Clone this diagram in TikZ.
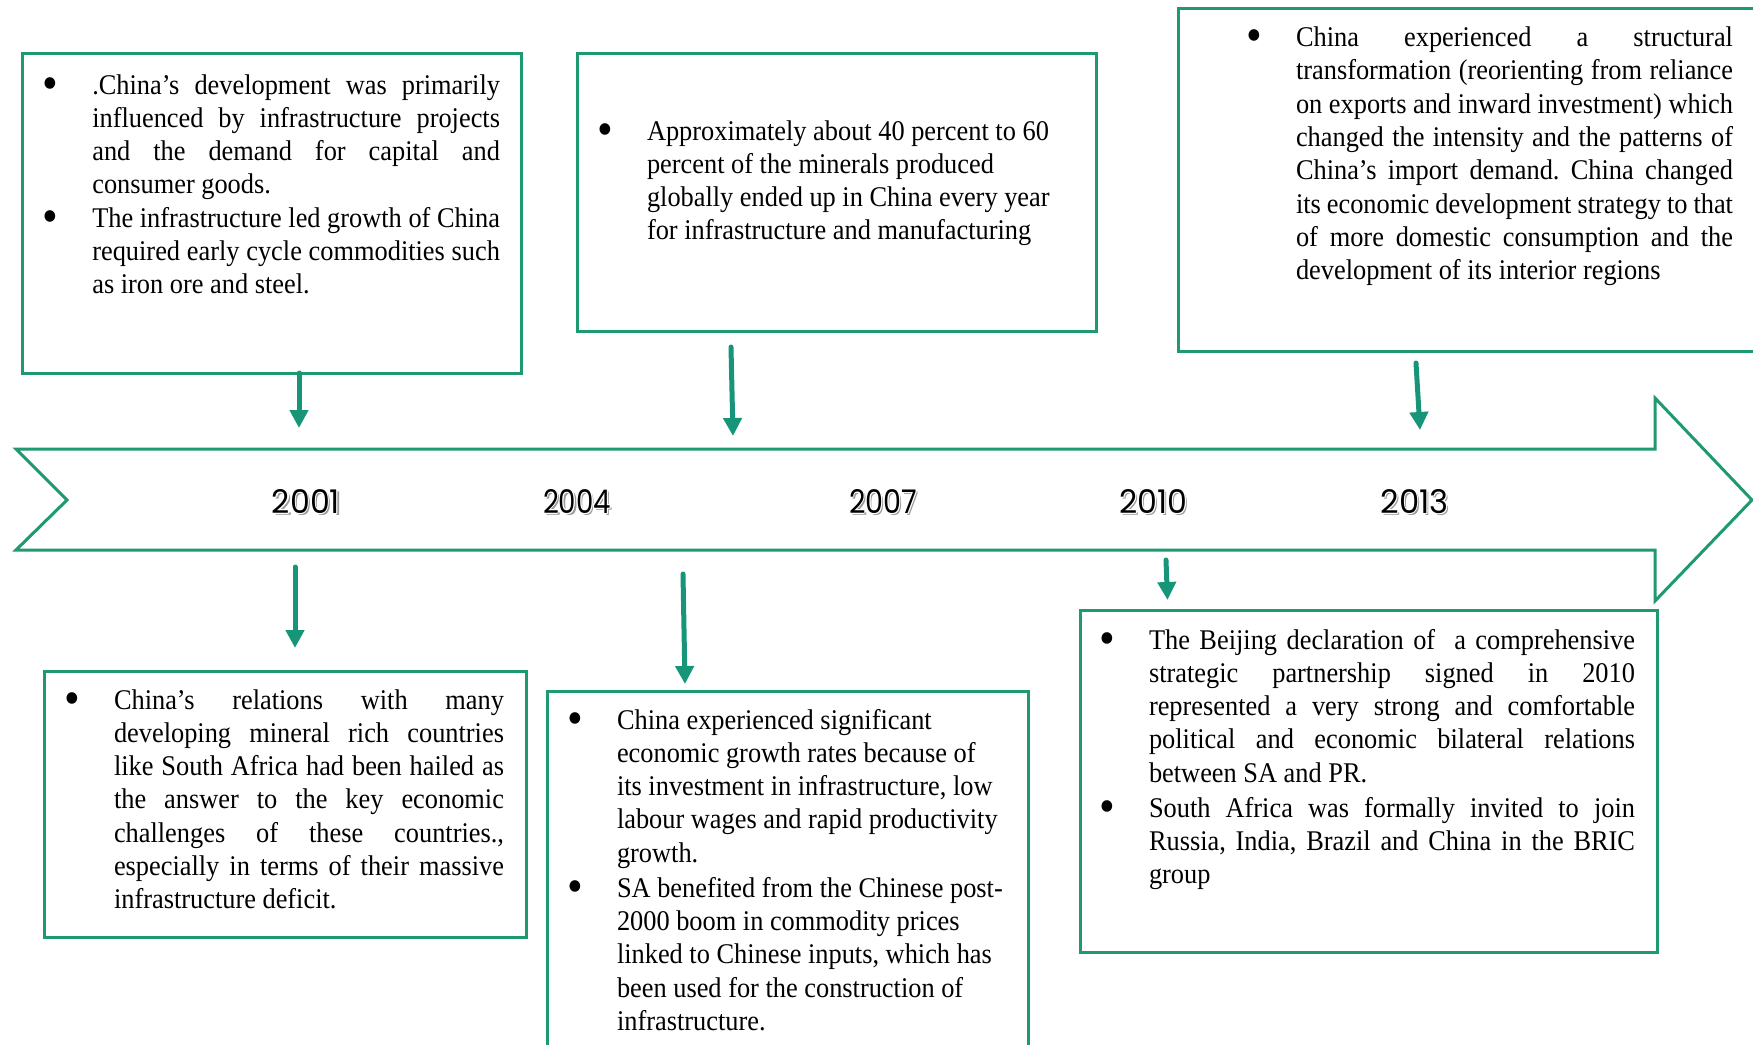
\documentclass[tikz,border=0pt]{standalone}
\usepackage{graphicx}
\usepackage{fontspec}
\setmainfont{Liberation Serif}[FakeStretch=0.925]
\newfontfamily\yearfont{Poppins}
\usetikzlibrary{arrows.meta}
\definecolor{boxgreen}{HTML}{1F9A6F}
\definecolor{arrowteal}{HTML}{169579}
\definecolor{shadowgray}{HTML}{9A9A9A}

\newcommand\bodyfont{\fontsize{14.25}{16.65}\selectfont\frenchspacing}
\newcommand\bul{\noindent\llap{\makebox[0pt]{\raisebox{-2.6pt}{\scalebox{1.7}{\textbullet}}}\hspace{21pt}}}
\newcommand\jl[1]{\makebox[\linewidth][s]{#1}}
\newcommand\yrlayer[1]{\resizebox{34pt}{12pt}{\yearfont #1}}
\newcommand\yeartext[1]{%
  \rlap{\kern1.1pt\raisebox{-1.1pt}{\color{shadowgray}\yrlayer{#1}}}%
  \rlap{\kern0.55pt{\color{white}\yrlayer{#1}}}%
  \rlap{\kern-0.55pt{\color{white}\yrlayer{#1}}}%
  \rlap{\raisebox{0.55pt}{\color{white}\yrlayer{#1}}}%
  \rlap{\raisebox{-0.55pt}{\color{white}\yrlayer{#1}}}%
  \rlap{\kern0.4pt\raisebox{0.4pt}{\color{white}\yrlayer{#1}}}%
  \rlap{\kern-0.4pt\raisebox{-0.4pt}{\color{white}\yrlayer{#1}}}%
  \rlap{\kern0.4pt\raisebox{-0.4pt}{\color{white}\yrlayer{#1}}}%
  \rlap{\kern-0.4pt\raisebox{0.4pt}{\color{white}\yrlayer{#1}}}%
  {\color{black}\yrlayer{#1}}}

\tikzset{
  card/.style={draw=boxgreen, line width=1.5pt, inner sep=0pt, outer sep=0pt, anchor=north west},
  band/.style={draw=boxgreen, line width=1.5pt, line join=miter},
  conn/.style={draw=arrowteal, line width=2.5pt, line cap=round, -{Triangle[width=9pt,length=9pt]}},
  txt/.style={anchor=base west, inner sep=0pt, outer sep=0pt},
  yearlbl/.style={inner sep=0pt, anchor=center},
}

\begin{document}
\begin{tikzpicture}[x=0.5pt, y=-0.5pt]
\useasboundingbox (0,0) rectangle (1753,1045);
\clip (0,0) rectangle (1753,1045);

% timeline band
\draw[band] (16,449) -- (1655,449) -- (1655,398) -- (1752,500) -- (1655,601)
  -- (1655,550) -- (16,550) -- (67,500) -- cycle;

% year labels
\node[yearlbl] (y2001) at (306,502) {\yeartext{2001}};
\node[yearlbl] (y2004) at (577,502) {\yeartext{2004}};
\node[yearlbl] (y2007) at (883,502) {\yeartext{2007}};
\node[yearlbl] (y2010) at (1153.5,502) {\yeartext{2010}};
\node[yearlbl] (y2013) at (1414.5,502) {\yeartext{2013}};

% boxes
\node[card, minimum width=249.75pt, minimum height=160pt] (b1) at (22,53) {};
\node[card, minimum width=259.5pt, minimum height=139pt] (b2) at (577,53) {};
\node[card, minimum width=350pt, minimum height=171.25pt] (b3) at (1178,8.5) {};
\node[card, minimum width=241pt, minimum height=132.75pt] (b4) at (44,671.5) {};
\node[card, minimum width=240.5pt, minimum height=200pt] (b5) at (547,691) {};
\node[card, minimum width=288.5pt, minimum height=171pt] (b6) at (1080,610.5) {};

% texts
\node[txt] (t1) at (92.3,94) {\parbox[t]{203.85pt}{\bodyfont
\bul\jl{.China’s development was primarily}\\
\jl{influenced by infrastructure projects}\\
\jl{and the demand for capital and}\\
consumer goods.\\
\bul\jl{The infrastructure led growth of China}\\
\jl{required early cycle commodities such}\\
as iron ore and steel.}};

\node[txt] (t2) at (647,140) {\parbox[t]{220pt}{\bodyfont
\bul Approximately about 40 percent to 60\\
percent of the minerals produced\\
globally ended up in China every year\\
for infrastructure and manufacturing}};

\node[txt] (t3) at (1296,46.5) {\parbox[t]{218.5pt}{\bodyfont
\bul\jl{China experienced a structural}\\
\jl{transformation (reorienting from reliance}\\
\jl{on exports and inward investment) which}\\
\jl{changed the intensity and the patterns of}\\
\jl{China’s import demand. China changed}\\
\jl{its economic development strategy to that}\\
\jl{of more domestic consumption and the}\\
development of its interior regions}};

\node[txt] (t4) at (114,709) {\parbox[t]{195pt}{\bodyfont
\bul\jl{China’s relations with many}\\
\jl{developing mineral rich countries}\\
\jl{like South Africa had been hailed as}\\
\jl{the answer to the key economic}\\
\jl{challenges of these countries.,}\\
\jl{especially in terms of their massive}\\
infrastructure deficit.}};

\node[txt] (t5) at (617,729) {\parbox[t]{210pt}{\bodyfont
\bul China experienced significant\\
economic growth rates because of\\
its investment in infrastructure, low\\
labour wages and rapid productivity\\
growth.\\[0.8pt]
\bul SA benefited from the Chinese post-\\
2000 boom in commodity prices\\
linked to Chinese inputs, which has\\
been used for the construction of\\
infrastructure.}};

\node[txt] (t6) at (1149,649) {\parbox[t]{243pt}{\bodyfont
\bul\jl{The Beijing declaration of\ \ a comprehensive}\\
\jl{strategic partnership signed in 2010}\\
\jl{represented a very strong and comfortable}\\
\jl{political and economic bilateral relations}\\
between SA and PR.\\[0.8pt]
\bul\jl{South Africa was formally invited to join}\\
\jl{Russia, India, Brazil and China in the BRIC}\\
group}};

% connector end points
\coordinate (a1s) at (299,373);   \coordinate (a1e) at (299,428);
\coordinate (a2s) at (731,347);   \coordinate (a2e) at (733,436);
\coordinate (a3s) at (1416,363);  \coordinate (a3e) at (1420,430);
\coordinate (a4s) at (295,567);   \coordinate (a4e) at (295,648);
\coordinate (a5s) at (683,574);   \coordinate (a5e) at (685,684);
\coordinate (a6s) at (1166,560);  \coordinate (a6e) at (1167.5,600);

\draw[conn] (a1s) -- (a1e);
\draw[conn] (a2s) -- (a2e);
\draw[conn] (a3s) -- (a3e);
\draw[conn] (a4s) -- (a4e);
\draw[conn] (a5s) -- (a5e);
\draw[conn] (a6s) -- (a6e);
\end{tikzpicture}
\end{document}
